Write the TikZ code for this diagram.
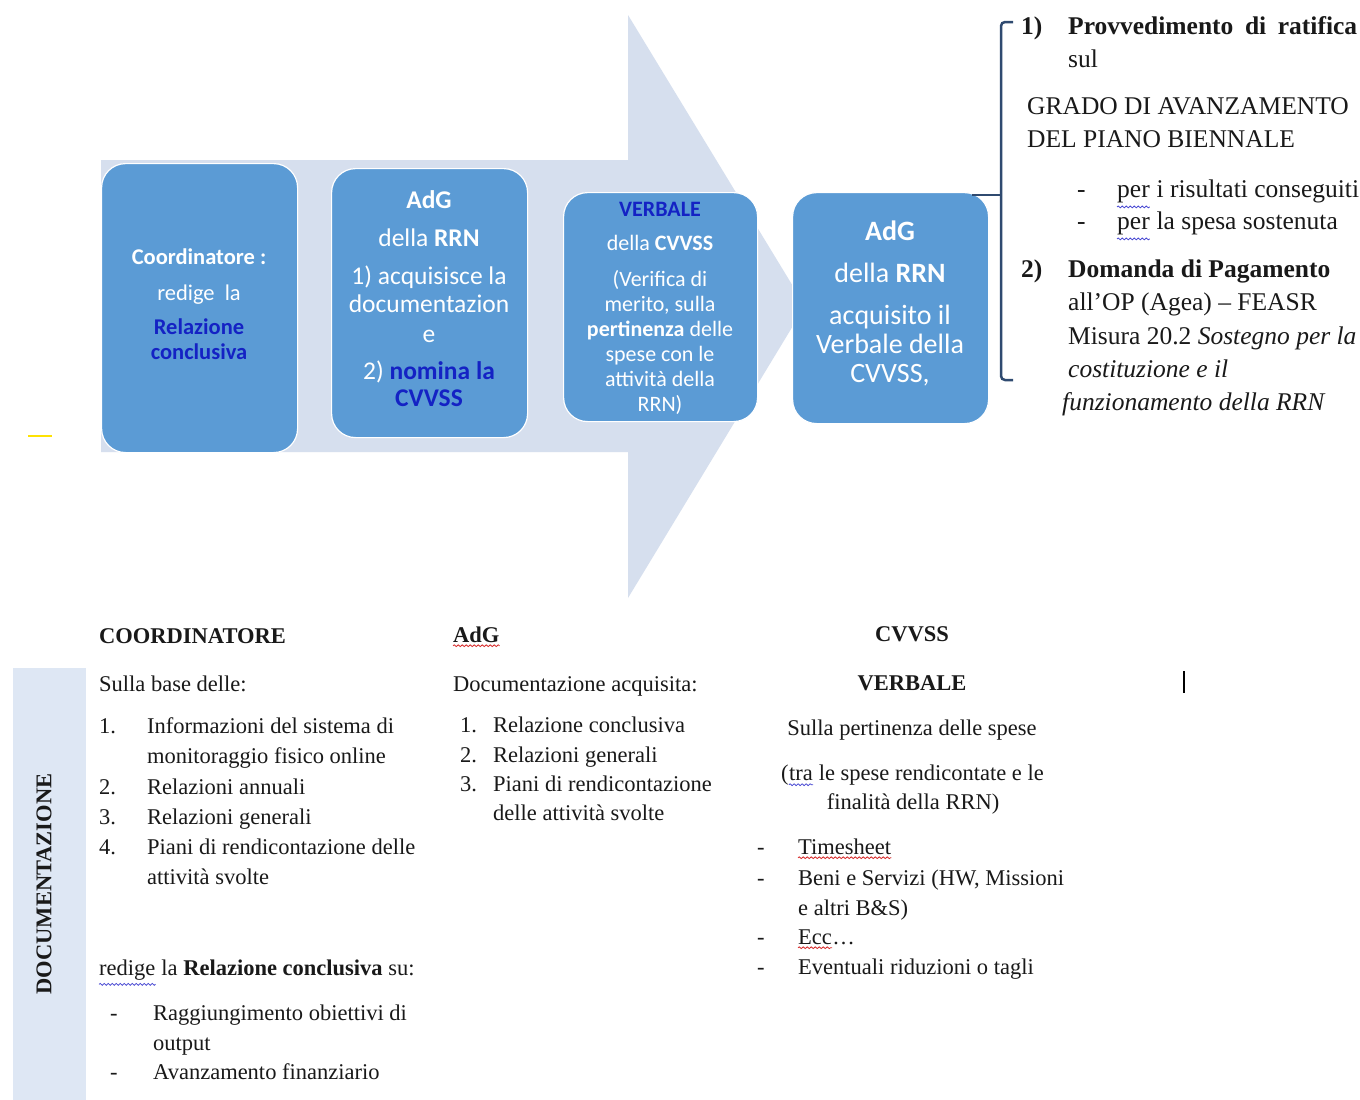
\documentclass[tikz,border=0pt]{standalone}
\usepackage{fontspec}
\setmainfont{Liberation Serif}
\newfontfamily\calfont{Carlito}
\usetikzlibrary{decorations.pathmorphing}
\definecolor{arrowbg}{RGB}{214,223,238}
\definecolor{boxblue}{RGB}{91,155,213}
\definecolor{deepblue}{RGB}{20,34,196}
\definecolor{brk}{RGB}{47,74,112}
\definecolor{docband}{RGB}{222,231,244}
\definecolor{sqblue}{RGB}{70,70,210}
\definecolor{sqred}{RGB}{215,40,40}
\definecolor{inktext}{RGB}{25,25,25}
\begin{document}
\begin{tikzpicture}[x=1pt,y=-1pt,
  flowbox/.style={fill=boxblue, draw=white, line width=1.2pt, rounded corners=24pt, inner sep=0pt, anchor=north west},
  bx/.style={text=white, inner sep=0pt, anchor=mid},
  bA/.style={bx, font=\calfont\fontsize{22.5}{26}\selectfont},
  bB/.style={bx, font=\calfont\fontsize{25.5}{29}\selectfont},
  bC/.style={bx, font=\calfont\fontsize{22}{25}\selectfont},
  bD/.style={bx, font=\calfont\fontsize{28}{32}\selectfont},
  body/.style={text=inktext, inner sep=0pt, anchor=mid west, font=\fontsize{22.5}{30}\selectfont},
  bodyc/.style={body, anchor=mid},
  rt/.style={text=inktext, inner sep=0pt, anchor=mid west, font=\fontsize{25.5}{33}\selectfont},
  brline/.style={draw=brk, line width=2.5pt},
  wavyblue/.style={draw=sqblue, line width=0.8pt, decorate, decoration={snake, amplitude=0.9pt, segment length=4pt}},
  wavyred/.style={draw=sqred, line width=0.8pt, decorate, decoration={snake, amplitude=0.9pt, segment length=4pt}}
]
\useasboundingbox (0,0) rectangle (1360,1100);
\fill[white] (0,0) rectangle (1360,1100);

% big background arrow
\fill[arrowbg] (101,160) -- (628,160) -- (628,15) -- (805,306) -- (628,598) -- (628,452) -- (101,452) -- cycle;

% boxes
\node[flowbox, minimum width=196pt, minimum height=289pt] (box1) at (101,163) {};
\node[flowbox, minimum width=196pt, minimum height=269pt] (box2) at (331,168) {};
\node[flowbox, minimum width=194pt, minimum height=229pt] (box3) at (563,192) {};
\node[flowbox, minimum width=196pt, minimum height=231pt] (box4) at (792,192) {};

\begin{scope}[shift={(0,4)}]
% box 1 text
\node[bA] (b1a) at (199,258) {\bfseries Coordinatore :};
\node[bA] (b1b) at (199,294) {redige\ \ la};
\node[bA, text=deepblue] (b1c) at (199,328) {\bfseries Relazione};
\node[bA, text=deepblue] (b1d) at (199,353) {\bfseries conclusiva};

% box 2 text
\node[bB] (b2a) at (429,202) {\bfseries AdG};
\node[bB] (b2b) at (429,240) {della \textbf{RRN}};
\node[bB] (b2c) at (429,278) {1) acquisisce la};
\node[bB] (b2d) at (429,306) {documentazion};
\node[bB] (b2e) at (429,336) {e};
\node[bB] (b2f) at (429,373) {2) \textcolor{deepblue}{\bfseries nomina la}};
\node[bB, text=deepblue] (b2g) at (429,400) {\bfseries CVVSS};

% box 3 text
\node[bC, text=deepblue] (b3a) at (660,210) {\bfseries VERBALE};
\node[bC] (b3b) at (660,244) {della \textbf{CVVSS}};
\node[bC] (b3c) at (660,280) {(Verifica di};
\node[bC] (b3d) at (660,305) {merito, sulla};
\node[bC] (b3e) at (660,330) {\textbf{pertinenza} delle};
\node[bC] (b3f) at (660,355) {spese con le};
\node[bC] (b3g) at (660,380) {attività della};
\node[bC] (b3h) at (660,405) {RRN)};

% box 4 text
\node[bD] (b4a) at (890,234) {\bfseries AdG};
\node[bD] (b4b) at (890,276) {della \textbf{RRN}};
\node[bD] (b4c) at (890,318) {acquisito il};
\node[bD] (b4d) at (890,347) {Verbale della};
\node[bD] (b4e) at (890,376) {CVVSS,};
\end{scope}

% bracket and connector
\coordinate (b4link) at (972,195);
\coordinate (brmid) at (1001,195);
\draw[brline, rounded corners=4pt] (1013,22) -- (1001,22) -- (1001,380) -- (1013,380);
\draw[brline] (b4link) -- (brmid);

\begin{scope}[shift={(0,5)}]
% right text
\node[rt] (r1n) at (1021,27) {\bfseries 1)};
\node[rt] (prov) at (1068,27) {\makebox[289pt][s]{\bfseries Provvedimento di ratifica}};
\node[rt] (sul) at (1068,60) {sul};
\node[rt] (grado) at (1027,107) {GRADO DI AVANZAMENTO};
\node[rt] (delp) at (1027,140) {DEL PIANO BIENNALE};
\node[rt] (dsh1) at (1077,190) {-};
\node[rt] (per1) at (1117,190) {per};
\node[rt] (per1r) at (per1.mid east) {\ i risultati conseguiti};
\node[rt] (dsh2) at (1077,222) {-};
\node[rt] (per2) at (1117,222) {per};
\node[rt] (per2r) at (per2.mid east) {\ la spesa sostenuta};
\node[rt] (r2n) at (1021,270) {\bfseries 2)};
\node[rt] (dom) at (1068,270) {\bfseries Domanda di Pagamento};
\node[rt] (allop) at (1068,303) {all’OP (Agea) – FEASR};
\node[rt] (mis) at (1068,337) {Misura 20.2 \textit{Sostegno per la}};
\node[rt] (cost) at (1068,370) {\itshape costituzione e il};
\node[rt] (funz) at (1062,403) {\itshape funzionamento della RRN};

% column 1
\node[body, font=\bfseries\fontsize{22.5}{30}\selectfont] (h1) at (99,636) {COORDINATORE};
\node[body] (s1) at (99,684) {Sulla base delle:};
\node[body] (n1) at (99,726) {1.};
\node[body] (t1) at (147,726) {Informazioni del sistema di};
\node[body] (t1b) at (147,756) {monitoraggio fisico online};
\node[body] (n2) at (99,787) {2.};
\node[body] (t2) at (147,787) {Relazioni annuali};
\node[body] (n3) at (99,817) {3.};
\node[body] (t3) at (147,817) {Relazioni generali};
\node[body] (n4) at (99,847) {4.};
\node[body] (t4) at (147,847) {Piani di rendicontazione delle};
\node[body] (t4b) at (147,877) {attività svolte};
\node[body] (red) at (99,968) {redige};
\node[body] (redr) at (red.mid east) {\ la \textbf{Relazione conclusiva} su:};
\node[body] (d1) at (110,1013) {-};
\node[body] (q1) at (153,1013) {Raggiungimento obiettivi di};
\node[body] (q1b) at (153,1043) {output};
\node[body] (d2) at (110,1072) {-};
\node[body] (q2) at (153,1072) {Avanzamento finanziario};

% column 2
\node[body, font=\bfseries\fontsize{22.5}{30}\selectfont] (h2) at (453,635) {AdG};
\node[body] (s2) at (453,684) {Documentazione acquisita:};
\node[body] (m1) at (460,725) {1.};
\node[body] (u1) at (493,725) {Relazione conclusiva};
\node[body] (m2) at (460,755) {2.};
\node[body] (u2) at (493,755) {Relazioni generali};
\node[body] (m3) at (460,784) {3.};
\node[body] (u3) at (493,784) {Piani di rendicontazione};
\node[body] (u3b) at (493,813) {delle attività svolte};

% column 3
\node[bodyc, font=\bfseries\fontsize{22.5}{30}\selectfont] (h3) at (912,634) {CVVSS};
\node[bodyc, font=\bfseries\fontsize{22.5}{30}\selectfont] (v3) at (912,683) {VERBALE};
\node[bodyc] (p3) at (912,728) {Sulla pertinenza delle spese};
\node[body] (opar) at (781,773) {(};
\node[body] (tra) at (opar.mid east) {tra};
\node[body] (trar) at (tra.mid east) {\ le spese rendicontate e le};
\node[bodyc] (fin) at (913,802) {finalità della RRN)};
\node[body] (e1) at (757,847) {-};
\node[body] (ts) at (798,847) {Timesheet};
\node[body] (e2) at (757,878) {-};
\node[body] (bs) at (798,878) {Beni e Servizi (HW, Missioni};
\node[body] (bs2) at (798,908) {e altri B\&S)};
\node[body] (e3) at (757,937) {-};
\node[body] (ecc) at (798,937) {Ecc};
\node[body] (eccd) at (ecc.mid east) {…};
\node[body] (e4) at (757,967) {-};
\node[body] (ev) at (798,967) {Eventuali riduzioni o tagli};
\end{scope}

% spell-check squiggles
\draw[wavyblue] ([yshift=-4pt]per1.south west) -- ([yshift=-4pt]per1.south east);
\draw[wavyblue] ([yshift=-4pt]per2.south west) -- ([yshift=-4pt]per2.south east);
\draw[wavyblue] ([yshift=-4pt]red.south west) -- ([yshift=-4pt]red.south east);
\draw[wavyred] ([yshift=-3pt]h2.south west) -- ([yshift=-3pt]h2.south east);
\draw[wavyblue] ([yshift=-4pt]tra.south west) -- ([yshift=-4pt]tra.south east);
\draw[wavyred] ([yshift=-3pt]ts.south west) -- ([yshift=-3pt]ts.south east);
\draw[wavyred] ([yshift=-3pt]ecc.south west) -- ([yshift=-3pt]ecc.south east);

% small marks
\draw[yellow!85!orange, line width=2pt] (28,436) -- (52,436);
\draw[black, line width=1.6pt] (1184,671) -- (1184,693);

% documentation band
\fill[docband] (13,668) rectangle (86,1100);
\node[rotate=90, inner sep=0pt, text=inktext, font=\bfseries\fontsize{22.5}{27}\selectfont] (doc) at (44,884) {DOCUMENTAZIONE};
\end{tikzpicture}
\end{document}
